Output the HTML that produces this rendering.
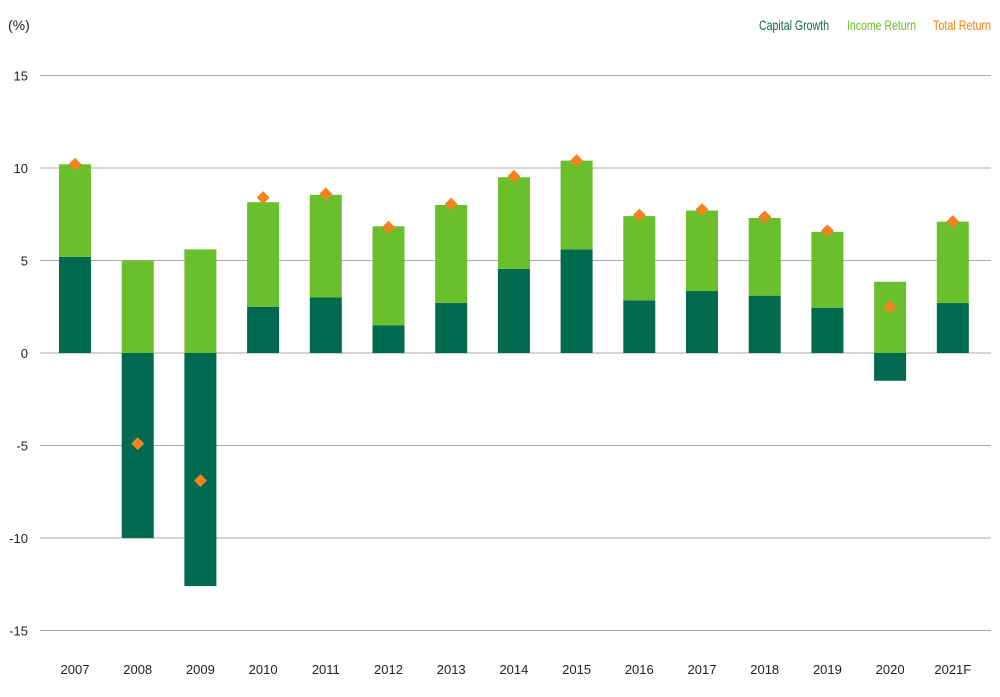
<!DOCTYPE html>
<html><head><meta charset="utf-8"><style>
body{margin:0;background:#fff}
text{font-family:"Liberation Sans",sans-serif}
</style></head><body>
<svg id="chart" width="1000" height="692" xmlns="http://www.w3.org/2000/svg">
<text x="8" y="30" font-size="14" fill="#222">(%)</text>
<g>
<text x="759" y="30" font-size="14" fill="#0e6a4a" textLength="70" lengthAdjust="spacingAndGlyphs">Capital Growth</text>
<text x="847" y="30" font-size="14" fill="#6abf2c" textLength="69" lengthAdjust="spacingAndGlyphs">Income Return</text>
<text x="933" y="30" font-size="14" fill="#f58220" textLength="58" lengthAdjust="spacingAndGlyphs">Total Return</text>
</g>
<g id="grid"></g><g id="bars"></g><g id="pts"></g><g id="xl"></g>
</svg>
<script>
const categories=["2007","2008","2009","2010","2011","2012","2013","2014","2015","2016","2017","2018","2019","2020","2021F"];
const capitalGrowth=[5.2,-10,-12.6,2.5,3.0,1.5,2.7,4.55,5.6,2.85,3.35,3.1,2.45,-1.5,2.7];
const incomeReturn=[5.0,5.0,5.6,5.65,5.55,5.35,5.3,4.95,4.8,4.55,4.35,4.2,4.1,3.85,4.4];
const totalReturn=[10.2,-4.9,-6.9,8.4,8.6,6.8,8.05,9.55,10.4,7.45,7.75,7.35,6.6,2.5,7.1];
const yTicks=[15,10,5,0,-5,-10,-15];
const NS="http://www.w3.org/2000/svg";
const y=v=>353-v*18.5;
const x=i=>75+i*62.7;
function mk(t,a,p){const e=document.createElementNS(NS,t);for(const k in a)e.setAttribute(k,a[k]);document.getElementById(p).appendChild(e);return e;}
yTicks.forEach(t=>{
 const l=mk('line',{x1:40,x2:991,y1:y(t),y2:y(t),stroke:'#aaa','stroke-width':1},'grid');
 
 
 const tx=mk('text',{x:28,y:y(t)+5,'text-anchor':'end','font-size':13,fill:'#222'},'grid');tx.textContent=t;
 
 
});
categories.forEach((c,i)=>{
 const w=32,cx=x(i);
 const cg=capitalGrowth[i];
 const base=cg>0?cg:0;
 const r1=mk('rect',{x:cx-w/2,y:Math.min(y(0),y(cg)),width:w,height:Math.abs(y(cg)-y(0)),fill:'#006a4e'},'bars');
 
 
 const r2=mk('rect',{x:cx-w/2,y:y(base+incomeReturn[i]),width:w,height:incomeReturn[i]*18.5,fill:'#6abf2c'},'bars');
 
 
 const ty=y(totalReturn[i]),s=6.5;
 const d=mk('polygon',{points:`${cx},${ty-s} ${cx+s},${ty} ${cx},${ty+s} ${cx-s},${ty}`,fill:'#f58220'},'pts');
 
 
 const t=mk('text',{x:cx,y:674,'text-anchor':'middle','font-size':13,fill:'#222'},'xl');t.textContent=c;
 
 
});
</script>
</body></html>
